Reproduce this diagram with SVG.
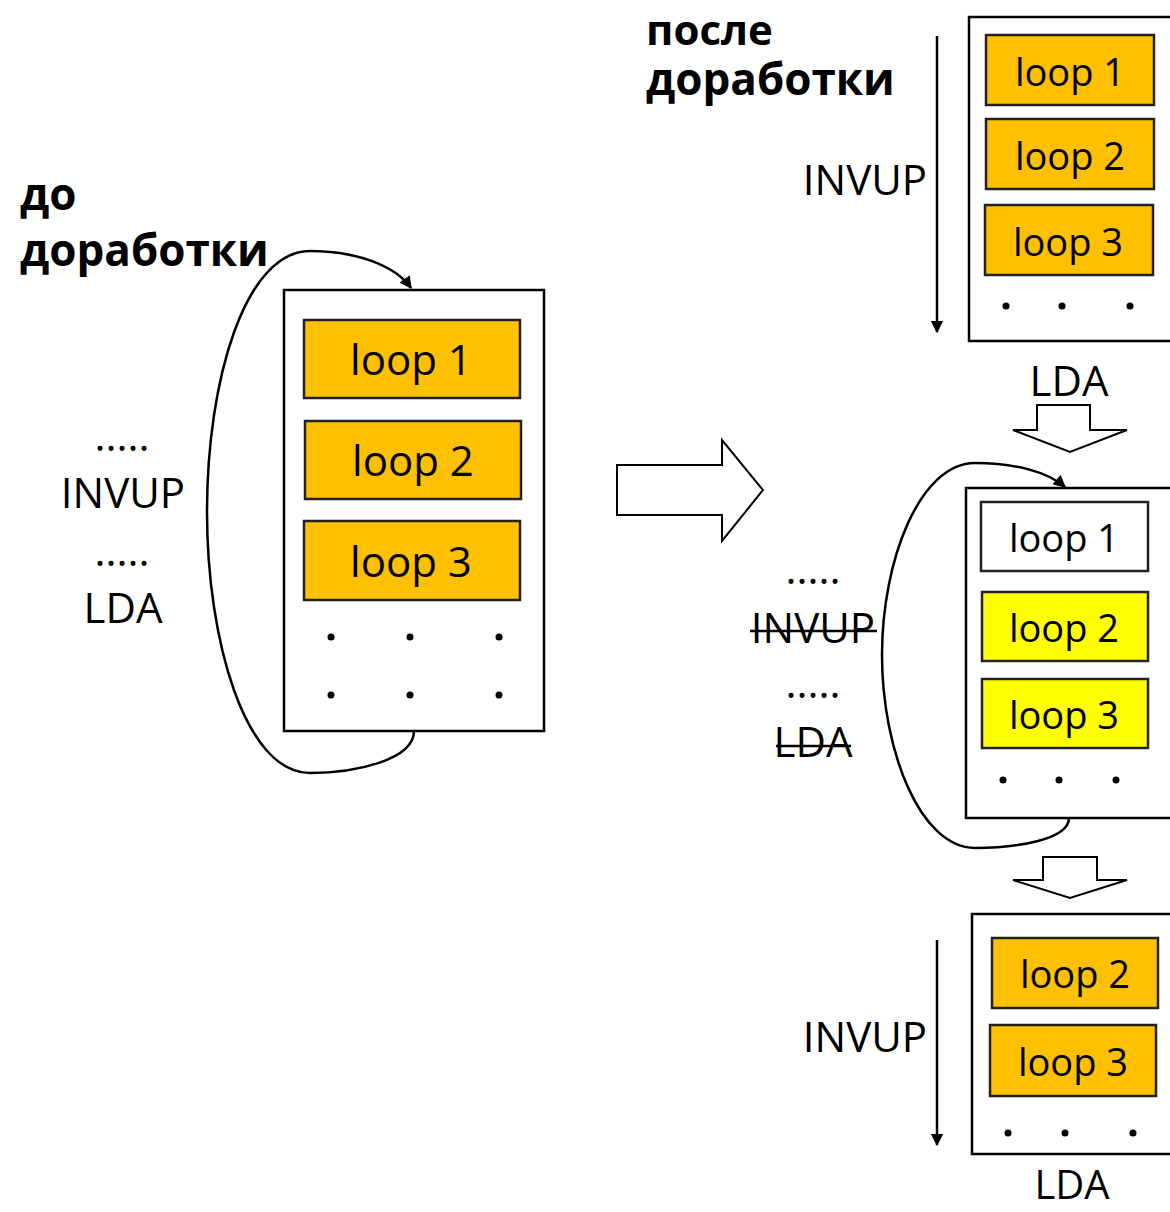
<svg xmlns="http://www.w3.org/2000/svg" width="1170" height="1212" viewBox="0 0 1170 1212">
<defs>
<style>
.t{font-family:"Open Sans","Noto Sans","Liberation Sans",sans-serif;fill:#000;text-anchor:middle}
.title{font-family:"Open Sans","Noto Sans","Liberation Sans",sans-serif;font-weight:bold;font-size:44px;fill:#000}
.lbl{font-size:42px}
.lp{font-size:42px}
.lps{font-size:38px}
.box{fill:#fff;stroke:#000;stroke-width:2.5}
.org{fill:#FFC000;stroke:#222;stroke-width:2.5}
.yel{fill:#FFFF00;stroke:#222;stroke-width:2.5}
.wht{fill:#fff;stroke:#222;stroke-width:2.5}
.ln{fill:none;stroke:#000;stroke-width:2.5}
.hol{fill:#fff;stroke:#000;stroke-width:2}
.dot{fill:#000}
</style>
<marker id="ah" viewBox="0 0 10 10" refX="9" refY="5" markerWidth="5" markerHeight="5" orient="auto" markerUnits="strokeWidth">
<path d="M0,0 L10,5 L0,10 z" fill="#000"/>
</marker>
</defs>
<rect width="1170" height="1212" fill="#fff"/>

<g id="titles">
<text class="title" x="20" y="210">до</text>
<text class="title" x="20" y="266">доработки</text>
<text class="title" x="646" y="45" style="font-size:42px">после</text>
<text class="title" x="646" y="95">доработки</text>
</g>

<g id="left-labels">
<text class="t lbl" x="122" y="451">.....</text>
<text class="t lbl" x="123" y="508">INVUP</text>
<text class="t lbl" x="122" y="566">.....</text>
<text class="t lbl" x="123" y="623">LDA</text>
</g>

<g id="left-box">
<rect class="box" x="284" y="290" width="260" height="441"/>
<rect class="org" x="304" y="320" width="216" height="78"/>
<text class="t lp" x="411" y="375">loop 1</text>
<rect class="org" x="305" y="421" width="216" height="78"/>
<text class="t lp" x="413" y="476">loop 2</text>
<rect class="org" x="304" y="521" width="216" height="79"/>
<text class="t lp" x="411" y="577">loop 3</text>
<circle class="dot" cx="331" cy="637" r="3.5"/><circle class="dot" cx="410" cy="637" r="3.5"/><circle class="dot" cx="499" cy="637" r="3.5"/>
<circle class="dot" cx="331" cy="695" r="3.5"/><circle class="dot" cx="410" cy="695" r="3.5"/><circle class="dot" cx="499" cy="695" r="3.5"/>
</g>

<g id="top-right-box">
<text class="t lbl" x="865" y="195">INVUP</text>
<rect class="box" x="969" y="17" width="210" height="324"/>
<rect class="org" x="986" y="35" width="168" height="70"/>
<text class="t lps" x="1070" y="86">loop 1</text>
<rect class="org" x="986" y="119" width="168" height="70"/>
<text class="t lps" x="1070" y="170">loop 2</text>
<rect class="org" x="985" y="205" width="168" height="70"/>
<text class="t lps" x="1068" y="256">loop 3</text>
<circle class="dot" cx="1006" cy="306" r="3.5"/><circle class="dot" cx="1062" cy="306" r="3.5"/><circle class="dot" cx="1130" cy="306" r="3.5"/>
<text class="t lbl" x="1069" y="396">LDA</text>
</g>

<g id="middle-box">
<text class="t lbl" x="813" y="584">.....</text>
<text class="t lbl" x="813" y="643">INVUP</text>
<line class="ln" x1="750" y1="631" x2="877" y2="631"/>
<text class="t lbl" x="813" y="698">.....</text>
<text class="t lbl" x="813" y="757">LDA</text>
<line class="ln" x1="776" y1="746" x2="851" y2="746"/>
<rect class="box" x="966" y="488" width="210" height="330"/>
<rect class="wht" x="981" y="502" width="167" height="69"/>
<text class="t lps" x="1064" y="552">loop 1</text>
<rect class="yel" x="982" y="592" width="166" height="69"/>
<text class="t lps" x="1064" y="642">loop 2</text>
<rect class="yel" x="982" y="679" width="166" height="69"/>
<text class="t lps" x="1064" y="729">loop 3</text>
<circle class="dot" cx="1003" cy="780" r="3.5"/><circle class="dot" cx="1059" cy="780" r="3.5"/><circle class="dot" cx="1116" cy="780" r="3.5"/>
</g>

<g id="bottom-box">
<text class="t lbl" x="865" y="1052">INVUP</text>
<rect class="box" x="972" y="914" width="210" height="240"/>
<rect class="org" x="992" y="938" width="166" height="70"/>
<text class="t lps" x="1075" y="988">loop 2</text>
<rect class="org" x="990" y="1025" width="166" height="71"/>
<text class="t lps" x="1073" y="1076">loop 3</text>
<circle class="dot" cx="1008" cy="1133" r="3.5"/><circle class="dot" cx="1065" cy="1133" r="3.5"/><circle class="dot" cx="1133" cy="1133" r="3.5"/>
<text class="t lbl" x="1072" y="1199" style="font-size:40px">LDA</text>
</g>

<g id="connectors">
<path class="ln" d="M414,731 C414,760 355,773 310,773 C245,773 207,640 207,512 C207,380 245,251 310,251 C355,251 395,265 411,288" marker-end="url(#ah)"/>
<path class="ln" d="M1069,818 C1069,840 1015,848 975,848 C920,848 882,750 882,655 C882,560 920,463 975,463 C1015,463 1048,472 1065,487" marker-end="url(#ah)"/>
<line class="ln" x1="937" y1="36" x2="937" y2="332" marker-end="url(#ah)"/>
<line class="ln" x1="937" y1="940" x2="937" y2="1145" marker-end="url(#ah)"/>
<path class="hol" d="M617,465 L722,465 L722,440 L763,490 L722,541 L722,515 L617,515 Z"/>
<path class="hol" d="M1037,405 L1090,405 L1090,430 L1127,430 L1070,452 L1013,430 L1037,430 Z"/>
<path class="hol" d="M1043,857 L1097,857 L1097,880 L1127,880 L1070,898 L1013,880 L1043,880 Z"/>
</g>
</svg>
